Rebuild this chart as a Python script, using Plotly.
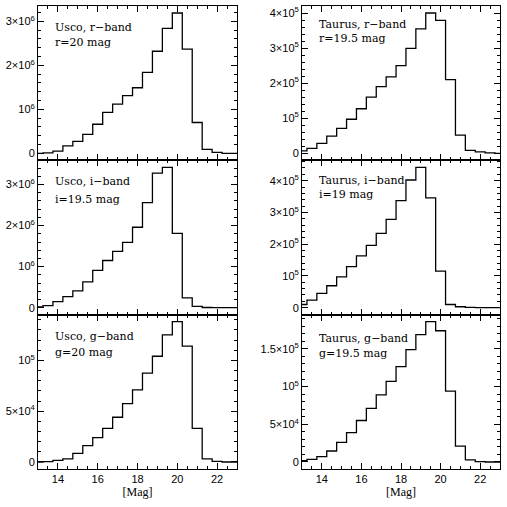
import plotly.graph_objects as go

W = H = 507

# Bin centres (mag), 0.5-mag bins
mag_centres = [13.0, 13.5, 14.0, 14.5, 15.0, 15.5, 16.0, 16.5, 17.0, 17.5, 18.0,
               18.5, 19.0, 19.5, 20.0, 20.5, 21.0, 21.5, 22.0, 22.5, 23.0]

usco_r = [0.00e6, 0.01e6, 0.05e6, 0.17e6, 0.27e6, 0.43e6, 0.66e6, 0.93e6, 1.12e6, 1.31e6, 1.49e6,
          1.84e6, 2.32e6, 2.84e6, 3.19e6, 2.37e6, 0.70e6, 0.09e6, 0.02e6, 0.0, 0.0]
taurus_r = [0.07e5, 0.14e5, 0.28e5, 0.49e5, 0.71e5, 0.97e5, 1.27e5, 1.60e5, 1.90e5, 2.18e5, 2.50e5,
            2.99e5, 3.55e5, 4.00e5, 3.79e5, 2.10e5, 0.52e5, 0.085e5, 0.04e5, 0.01e5, 0.0]
usco_i = [0.02e6, 0.05e6, 0.15e6, 0.27e6, 0.41e6, 0.63e6, 0.91e6, 1.15e6, 1.37e6, 1.59e6, 1.96e6,
          2.56e6, 3.28e6, 3.42e6, 1.81e6, 0.24e6, 0.03e6, 0.005e6, 0.0, 0.0, 0.0]
taurus_i = [0.10e5, 0.24e5, 0.45e5, 0.69e5, 0.97e5, 1.29e5, 1.63e5, 1.96e5, 2.34e5, 2.78e5, 3.37e5,
            4.02e5, 4.42e5, 3.46e5, 1.15e5, 0.10e5, 0.03e5, 0.01e5, 0.0, 0.0, 0.0]
usco_g = [0.0, 0.003e5, 0.016e5, 0.03e5, 0.085e5, 0.16e5, 0.24e5, 0.33e5, 0.44e5, 0.575e5, 0.71e5,
          0.875e5, 1.04e5, 1.25e5, 1.38e5, 1.14e5, 0.33e5, 0.03e5, 0.006e5, 0.0, 0.0]
taurus_g = [0.018e5, 0.035e5, 0.07e5, 0.146e5, 0.26e5, 0.39e5, 0.55e5, 0.71e5, 0.89e5, 1.07e5, 1.265e5,
            1.49e5, 1.69e5, 1.86e5, 1.74e5, 0.94e5, 0.21e5, 0.027e5, 0.005e5, 0.0, 0.0]

# Labels
panel_label_1 = ["Usco, r\u2212band", "Taurus, r\u2212band", "Usco, i\u2212band",
                 "Taurus, i\u2212band", "Usco, g\u2212band", "Taurus, g\u2212band"]
panel_label_2 = ["r=20 mag", "r=19.5 mag", "i=19.5 mag", "i=19 mag", "g=20 mag", "g=19.5 mag"]

# y tick values / labels
yt_usco_r = [0, 1e6, 2e6, 3e6]
yl_usco_r = ["0", "10<sup>6</sup>", "2\u00d710<sup>6</sup>", "3\u00d710<sup>6</sup>"]
yt_taurus_r = [0, 1e5, 2e5, 3e5, 4e5]
yl_taurus_r = ["0", "10<sup>5</sup>", "2\u00d710<sup>5</sup>", "3\u00d710<sup>5</sup>", "4\u00d710<sup>5</sup>"]
yt_usco_i = [0, 1e6, 2e6, 3e6]
yl_usco_i = ["0", "10<sup>6</sup>", "2\u00d710<sup>6</sup>", "3\u00d710<sup>6</sup>"]
yt_taurus_i = [0, 1e5, 2e5, 3e5, 4e5]
yl_taurus_i = ["0", "10<sup>5</sup>", "2\u00d710<sup>5</sup>", "3\u00d710<sup>5</sup>", "4\u00d710<sup>5</sup>"]
yt_usco_g = [0, 5e4, 1e5]
yl_usco_g = ["0", "5\u00d710<sup>4</sup>", "10<sup>5</sup>"]
yt_taurus_g = [0, 5e4, 1e5, 1.5e5]
yl_taurus_g = ["0", "5\u00d710<sup>4</sup>", "10<sup>5</sup>", "1.5\u00d710<sup>5</sup>"]

x_ticks = [14, 16, 18, 20, 22]
x_title = "[Mag]"

series = [usco_r, taurus_r, usco_i, taurus_i, usco_g, taurus_g]
yticks = [(yt_usco_r, yl_usco_r, 2e5), (yt_taurus_r, yl_taurus_r, 2e4),
          (yt_usco_i, yl_usco_i, 2e5), (yt_taurus_i, yl_taurus_i, 2e4),
          (yt_usco_g, yl_usco_g, 1e4), (yt_taurus_g, yl_taurus_g, 1e4)]

# layout in pixels
col_px = [(38, 237), (302, 500)]
row_px = [(6, 160.3), (160.3, 314.7), (314.7, 469)]
label_pos = [(53, 27, 43), (317, 24, 39), (53, 181.5, 199), (317, 180.5, 194.5),
             (53, 336.5, 352.5), (317, 338, 353.5)]

fig = go.Figure()
axis_font = dict(family="Liberation Sans, Arial, sans-serif", size=11, color="black")
serif = dict(family="Liberation Serif, Times New Roman, serif", size=12, color="black")
label_font = dict(family="DejaVu Serif, serif", size=11, color="black")

annotations = []
for k in range(6):
    r, c = divmod(k, 2)
    idx = k + 1
    xs = "" if idx == 1 else str(idx)
    fig.add_trace(go.Scatter(x=mag_centres, y=series[k], mode="lines",
                             line=dict(color="black", width=1.3, shape="hvh"),
                             xaxis="x" + xs, yaxis="y" + xs, showlegend=False,
                             hoverinfo="skip"))
    x0, x1 = col_px[c]
    ytop, ybot = row_px[r]
    ymax = max(series[k])
    tv, tt, mdt = yticks[k]
    xaxis = dict(domain=[x0 / W, x1 / W], anchor="y" + xs, range=[13, 23],
                 tickvals=x_ticks, ticktext=[str(v) for v in x_ticks],
                 ticks="inside", ticklen=6, tickwidth=1, tickcolor="black",
                 minor=dict(ticks="inside", ticklen=3, dtick=0.5, tick0=13,
                            tickcolor="black", showgrid=False),
                 showline=True, linecolor="black", linewidth=1, mirror="allticks",
                 showgrid=False, zeroline=False, showticklabels=(r == 2),
                 tickfont=axis_font)
    if r == 2:
        xaxis["title"] = dict(text=x_title, font=serif, standoff=2)
    fig.update_layout(**{
        "xaxis" + xs: xaxis,
        "yaxis" + xs: dict(domain=[1 - ybot / H, 1 - ytop / H], anchor="x" + xs,
                           range=[-0.05 * ymax, 1.05 * ymax],
                           tickvals=tv, ticktext=tt,
                           ticks="inside", ticklen=6, tickwidth=1, tickcolor="black",
                           minor=dict(ticks="inside", ticklen=3, dtick=mdt, tick0=0,
                                      tickcolor="black", showgrid=False),
                           showline=True, linecolor="black", linewidth=1, mirror="allticks",
                           showgrid=False, zeroline=False, tickfont=axis_font),
    })
    lx, ly1, ly2 = label_pos[k]
    annotations.append(dict(x=lx / W, y=1 - ly1 / H, xref="paper", yref="paper",
                            text=panel_label_1[k], showarrow=False, xanchor="left",
                            yanchor="middle", font=label_font))
    annotations.append(dict(x=lx / W, y=1 - ly2 / H, xref="paper", yref="paper",
                            text=panel_label_2[k], showarrow=False, xanchor="left",
                            yanchor="middle", font=label_font))

fig.update_layout(width=W, height=H, autosize=False,
                  margin=dict(l=0, r=0, t=0, b=0),
                  paper_bgcolor="white", plot_bgcolor="white",
                  annotations=annotations)

fig.write_html("out.html")
